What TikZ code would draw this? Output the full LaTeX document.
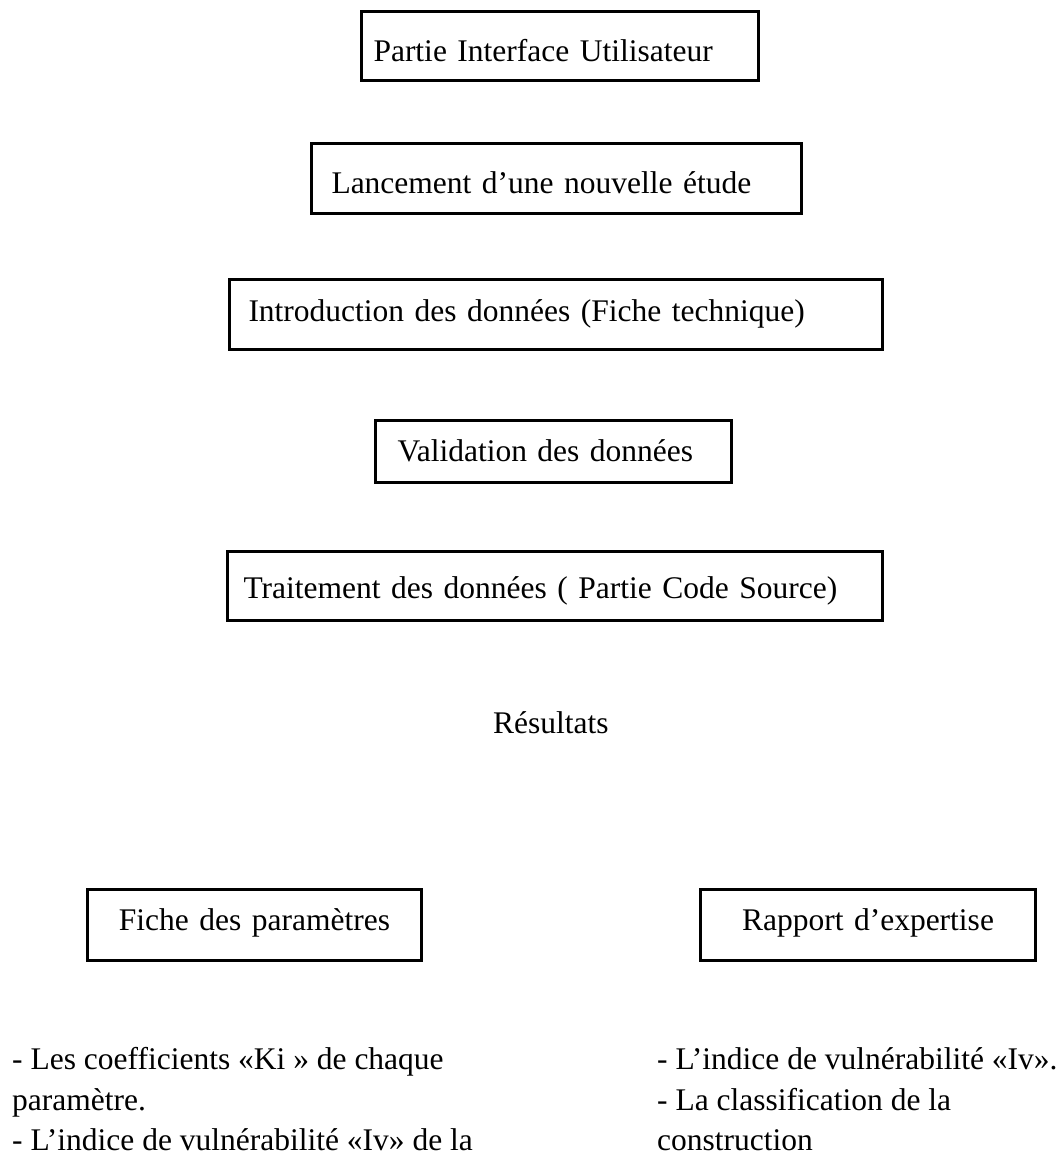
\documentclass[tikz,border=0pt]{standalone}
\usepackage{fontspec}
\setmainfont{Liberation Serif}
\tikzset{
  box/.style={draw, line width=3pt, rectangle, inner ysep=0pt, align=left, anchor=north west},
  cbox/.style={box, align=center},
  lbl/.style={inner sep=0pt, anchor=base west}
}
\begin{document}
\begin{tikzpicture}[x=1pt, y=-1pt, font=\fontsize{31.5pt}{42.5pt}\selectfont]
\useasboundingbox (0,0) rectangle (1059,1157);
\node[box, inner xsep=12pt, text width=373pt, minimum height=69pt, text height=30.5pt, text depth=0.5pt] (ui) at (360,10) {Partie Interface Utilisateur};
\node[box, inner xsep=20pt, text width=450pt, minimum height=70pt, text height=30.5pt, text depth=0.5pt] (lance) at (310,142) {Lancement d’une nouvelle étude};
\node[box, inner xsep=19pt, text width=615pt, minimum height=70pt, text height=22pt, text depth=9pt] (intro) at (228,278) {Introduction des données (Fiche technique)};
\node[box, inner xsep=22pt, text width=312pt, minimum height=62pt, text height=25.5pt, text depth=5.5pt] (valid) at (374,419) {Validation des données};
\node[box, inner xsep=16pt, text width=623pt, minimum height=69pt, text height=27.5pt, text depth=3.5pt] (trait) at (226,550) {Traitement des données ( Partie Code Source)};
\node[lbl] (res) at (493,733) {Résultats};
\node[cbox, inner xsep=10pt, text width=314pt, minimum height=71pt, text height=20.5pt, text depth=10.5pt] (fiche) at (86,888) {Fiche des paramètres};
\node[cbox, inner xsep=10pt, text width=315pt, minimum height=71pt, text height=20.5pt, text depth=10.5pt] (rapport) at (699,888) {Rapport d’expertise};
\node[lbl] (l1) at (12,1069) {- Les coefficients «Ki » de chaque};
\node[lbl] (l2) at (12,1110) {paramètre.};
\node[lbl] (l3) at (12,1150) {- L’indice de vulnérabilité «Iv» de la};
\node[lbl] (r1) at (657,1069) {- L’indice de vulnérabilité «Iv».};
\node[lbl] (r2) at (657,1110) {- La classification de la};
\node[lbl] (r3) at (657,1150) {construction};
\end{tikzpicture}
\end{document}
